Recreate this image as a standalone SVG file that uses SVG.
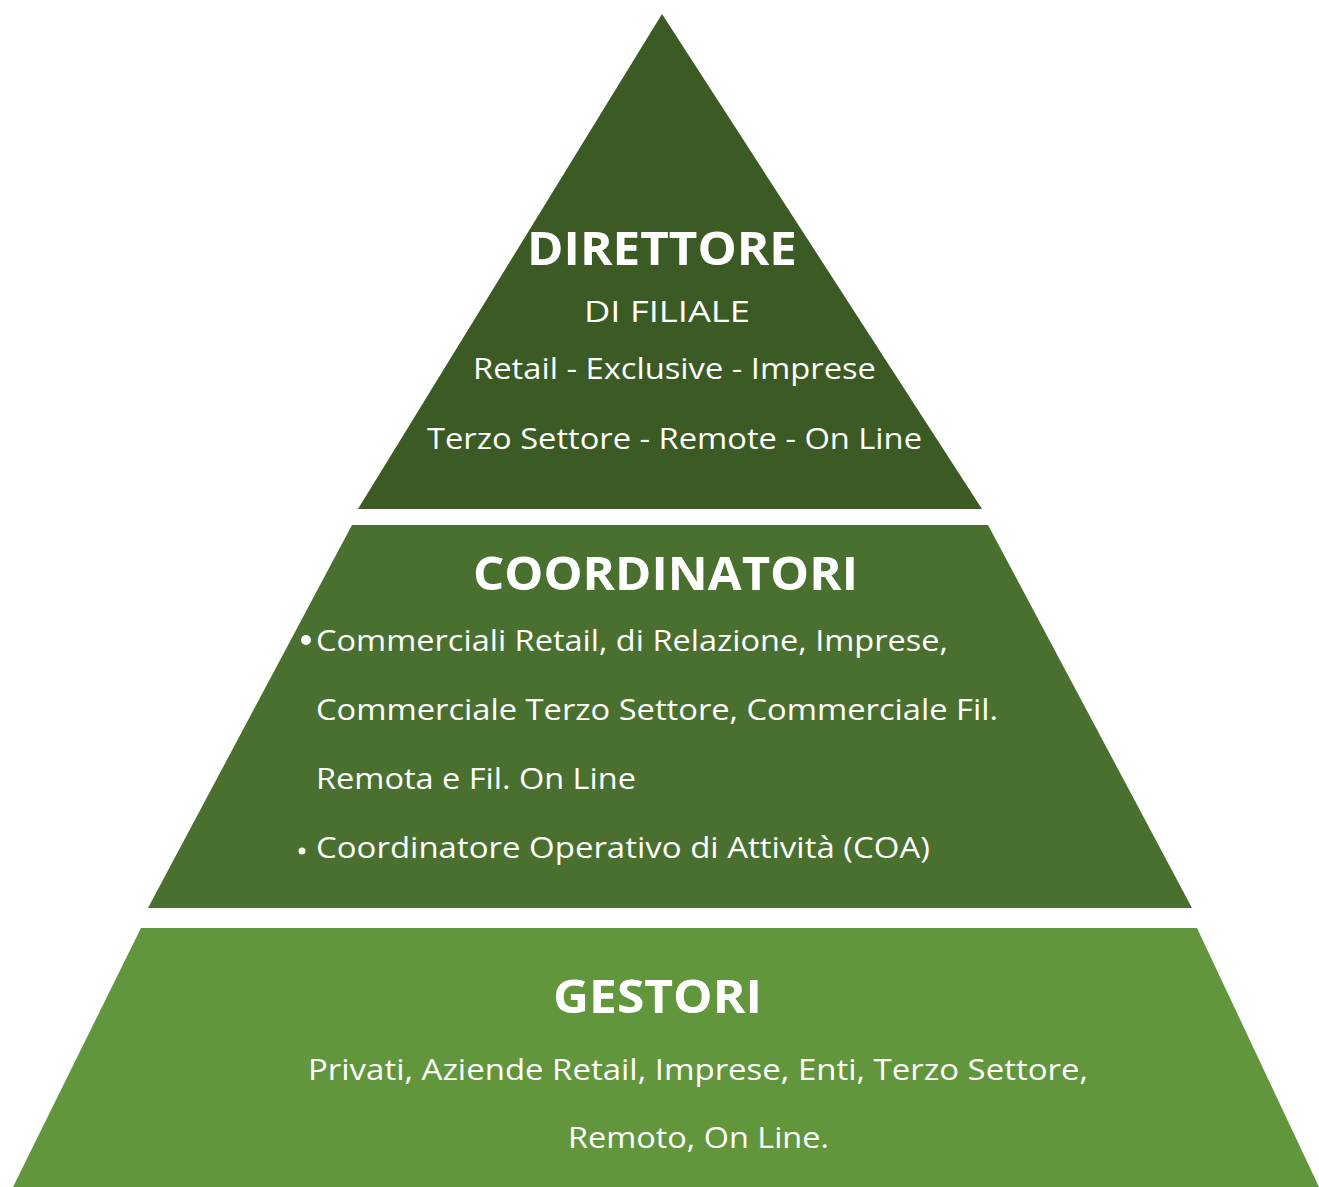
<svg xmlns="http://www.w3.org/2000/svg" width="1319" height="1187" viewBox="0 0 1319 1187">
<style>
.t{fill:#ffffff;font-family:"Open Sans","Noto Sans","Liberation Sans",sans-serif;}
.h{font-weight:bold;font-size:47px;}
.n{font-size:30px;}
.c{text-anchor:middle;}
</style>
<rect width="1319" height="1187" fill="#ffffff"/>
<g id="tier-direttore">
<polygon points="662,14 982,509 358,509" fill="#3b5a24"/>
<text class="t h" x="527" y="265" textLength="270" lengthAdjust="spacingAndGlyphs">DIRETTORE</text>
<text class="t n" x="584" y="322" font-size="33" textLength="166" lengthAdjust="spacingAndGlyphs">DI FILIALE</text>
<text class="t n" x="473" y="379" textLength="403" lengthAdjust="spacingAndGlyphs">Retail - Exclusive - Imprese</text>
<text class="t n" x="427" y="449" textLength="495" lengthAdjust="spacingAndGlyphs">Terzo Settore - Remote - On Line</text>
</g>
<g id="tier-coordinatori">
<polygon points="352,525 988,525 1192,908 148,908" fill="#4a7030"/>
<text class="t h" x="473" y="590" textLength="385" lengthAdjust="spacingAndGlyphs">COORDINATORI</text>
<circle cx="306" cy="640" r="5" fill="#ffffff"/>
<text class="t n" x="316" y="651" textLength="632" lengthAdjust="spacingAndGlyphs">Commerciali Retail, di Relazione, Imprese,</text>
<text class="t n" x="316" y="720" textLength="682" lengthAdjust="spacingAndGlyphs">Commerciale Terzo Settore, Commerciale Fil.</text>
<text class="t n" x="316" y="789" textLength="320" lengthAdjust="spacingAndGlyphs">Remota e Fil. On Line</text>
<circle cx="302" cy="851" r="3.5" fill="#ffffff"/>
<text class="t n" x="316" y="858" textLength="614" lengthAdjust="spacingAndGlyphs">Coordinatore Operativo di Attività (COA)</text>
</g>
<g id="tier-gestori">
<polygon points="141,928 1197,928 1319,1187 13,1187" fill="#62963d"/>
<text class="t h" x="553" y="1013" textLength="209" lengthAdjust="spacingAndGlyphs">GESTORI</text>
<text class="t n" x="308" y="1080" textLength="780" lengthAdjust="spacingAndGlyphs">Privati, Aziende Retail, Imprese, Enti, Terzo Settore,</text>
<text class="t n" x="568" y="1148" textLength="261" lengthAdjust="spacingAndGlyphs">Remoto, On Line.</text>
</g>
<g id="connectors"/>
</svg>
